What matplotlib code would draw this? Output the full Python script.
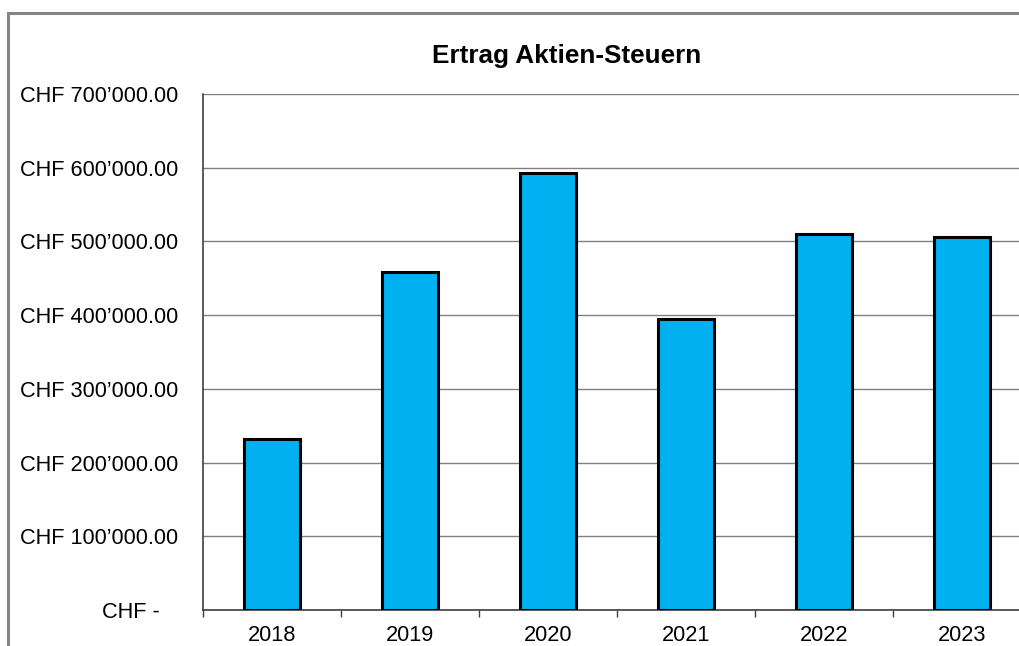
import matplotlib.pyplot as plt
from matplotlib.patches import Rectangle
from matplotlib.ticker import FuncFormatter, FixedLocator
import numpy as np

plt.rcParams['font.family'] = ['Liberation Sans', 'DejaVu Sans']

years = ['2018', '2019', '2020', '2021', '2022', '2023']
ertrag = [231600, 458500, 592800, 394800, 509700, 505600]
title = 'Ertrag Aktien-Steuern'


def chf(v, pos):
    if v == 0:
        return 'CHF -   '
    return 'CHF ' + f'{v:,.2f}'.replace(',', '\u2019')


def main():
    fig = plt.figure(figsize=(10.19, 6.46), dpi=100)
    # outer chart frame (right/bottom edges fall outside the picture)
    fig.patches.append(Rectangle((8 / 1019, -0.05), 1.2, (646 - 13) / 646 + 0.05,
                                 transform=fig.transFigure, fill=False,
                                 edgecolor='#858585', linewidth=2.2))

    ax = fig.add_axes([203 / 1019, 36 / 646, 828 / 1019, 516 / 646])
    x = np.arange(len(years))
    ax.bar(x, ertrag, width=0.405, color='#00B0F0', edgecolor='black',
           linewidth=2.2, zorder=3)

    ax.set_xlim(-0.5, len(years) - 0.5)
    ax.set_ylim(0, 700000)
    ax.yaxis.set_major_locator(FixedLocator(np.arange(0, 700001, 100000)))
    ax.yaxis.set_major_formatter(FuncFormatter(chf))
    ax.set_xticks(x)
    ax.set_xticklabels(years)
    ax.set_xticks(np.arange(-0.5, len(years) + 0.5, 1), minor=True)

    ax.grid(axis='y', color='#808080', linewidth=1.0, zorder=0)
    ax.tick_params(axis='y', length=0, pad=18, labelsize=15.7)
    ax.tick_params(axis='x', which='major', length=0, pad=11, labelsize=15.7)
    ax.tick_params(axis='x', which='minor', length=5, width=1, color='#404040',
                   direction='out')
    for s in ['top', 'right']:
        ax.spines[s].set_visible(False)
    for s in ['left', 'bottom']:
        ax.spines[s].set_color('#404040')
        ax.spines[s].set_linewidth(1.2)

    fig.text(567 / 1019, 1 - 56 / 646, title, ha='center', va='center',
             fontsize=18.8, fontweight='bold')

    fig.savefig('out.png', dpi=100)


if __name__ == '__main__':
    main()
